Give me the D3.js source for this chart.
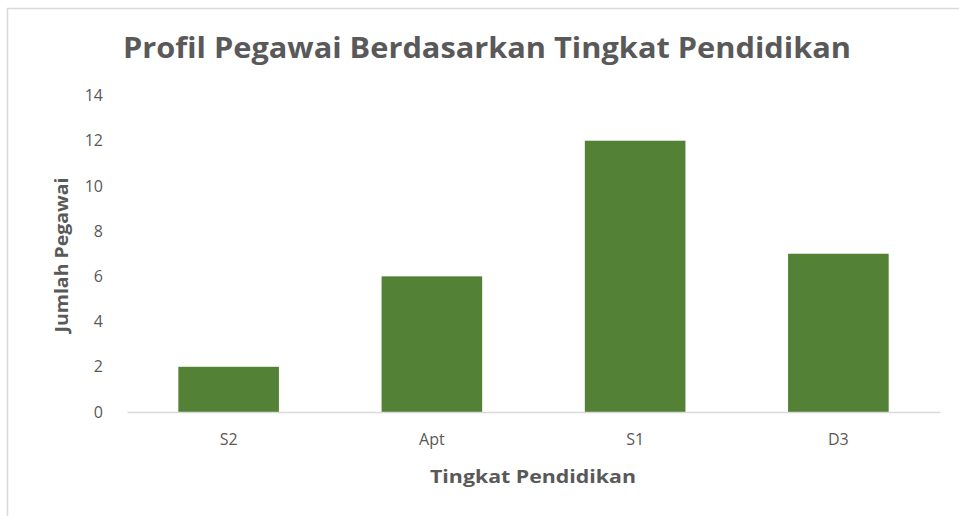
<!DOCTYPE html>
<html><head><meta charset="utf-8">
<script src="https://cdn.jsdelivr.net/npm/d3@7"></script>
<style>body{margin:0;background:#fff}svg{display:block}</style>
</head><body>
<script>
const categories = ["S2", "Apt", "S1", "D3"];
const values = [2, 6, 12, 7];
const yTicks = [0, 2, 4, 6, 8, 10, 12, 14];
const title = "Profil Pegawai Berdasarkan Tingkat Pendidikan";
const xTitle = "Tingkat  Pendidikan";
const yTitle = "Jumlah Pegawai";

const W = 959, H = 516;
const svg = d3.select("body").append("svg").attr("width", W).attr("height", H);
const font = "'Open Sans', 'Liberation Sans', sans-serif";
const txt = "#595959";

// frame
svg.append("line").attr("x1", 7).attr("x2", W).attr("y1", 8.5).attr("y2", 8.5).attr("stroke", "#d9d9d9").attr("stroke-width", 1.5);
svg.append("line").attr("x1", 7.5).attr("x2", 7.5).attr("y1", 8).attr("y2", H).attr("stroke", "#d9d9d9").attr("stroke-width", 1.5);

const m = {left: 127, right: 940, top: 95.5, bottom: 412};
const x = d3.scaleBand().domain(categories).range([m.left, m.right]).paddingInner(0.505).paddingOuter(0.2525);
const y = d3.scaleLinear().domain([0, 14]).range([m.bottom, m.top]);

svg.selectAll("rect.bar").data(values).enter().append("rect")
  .attr("class", "bar")
  .attr("x", (d, i) => x(categories[i]))
  .attr("width", x.bandwidth())
  .attr("y", d => y(d))
  .attr("height", d => y(0) - y(d))
  .attr("fill", "#538135");

// baseline
const xAxis = svg.append("g").attr("transform", `translate(0,${m.bottom})`)
  .call(d3.axisBottom(x).tickSize(0).tickPadding(22));
xAxis.select(".domain").attr("stroke", "#d9d9d9").attr("stroke-width", 1.5);
xAxis.selectAll("text").attr("font-family", font).attr("font-size", 16).attr("fill", txt);

const yAxis = svg.append("g").attr("transform", `translate(${m.left},0)`)
  .call(d3.axisLeft(y).tickValues(yTicks).tickSize(0).tickPadding(24));
yAxis.select(".domain").remove();
yAxis.selectAll("text").attr("font-family", font).attr("font-size", 16).attr("fill", txt);

svg.append("text").attr("x", 487).attr("y", 58).attr("text-anchor", "middle")
  .attr("font-family", font).attr("font-weight", "bold").attr("font-size", 28).attr("fill", txt)
  .attr("textLength", 728).attr("lengthAdjust", "spacingAndGlyphs").text(title);

svg.append("text").attr("x", 533).attr("y", 483).attr("text-anchor", "middle")
  .attr("font-family", font).attr("font-weight", "bold").attr("font-size", 18).attr("fill", txt)
  .attr("textLength", 206).attr("lengthAdjust", "spacingAndGlyphs").text(xTitle);

svg.append("text").attr("transform", "translate(68,255) rotate(-90)").attr("text-anchor", "middle")
  .attr("font-family", font).attr("font-weight", "bold").attr("font-size", 18).attr("fill", txt)
  .attr("textLength", 155).attr("lengthAdjust", "spacingAndGlyphs").text(yTitle);
</script>
</body></html>
